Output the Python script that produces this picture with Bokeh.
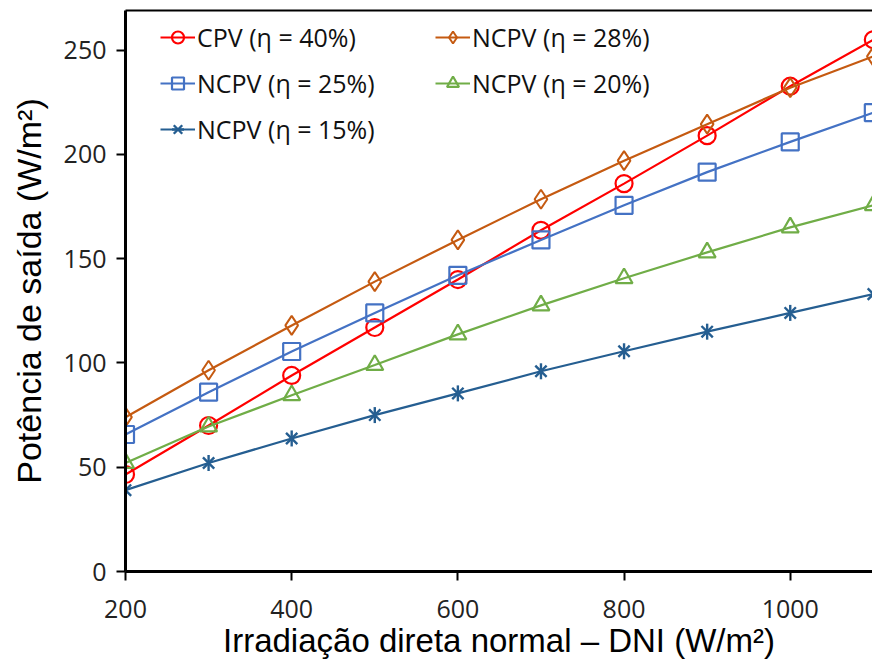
import math
from bokeh.plotting import figure
from bokeh.models import Range1d, LinearAxis, Legend, LegendItem, FixedTicker
from bokeh.embed import file_html
from bokeh.resources import INLINE

dni = [200, 300, 400, 500, 600, 700, 800, 900, 1000, 1100]
cpv_40 = [46.5, 70, 94, 117, 140, 163.6, 186, 209, 232.7, 255]
ncpv_28 = [74, 96.5, 118, 139, 159, 178.5, 197, 214.5, 232, 247]
ncpv_25 = [65.7, 86, 105.5, 124, 142, 159, 175.6, 191.5, 206, 220]
ncpv_20 = [52, 69.5, 84.5, 99, 113.7, 127.6, 140.6, 153, 165, 175.6]
ncpv_15 = [39, 52, 63.8, 75, 85.4, 96, 105.6, 115, 124, 133]

x_ticks = [200, 400, 600, 800, 1000]
y_ticks = [0, 50, 100, 150, 200, 250]

labels = ["CPV (η = 40%)", "NCPV (η = 28%)", "NCPV (η = 25%)", "NCPV (η = 20%)", "NCPV (η = 15%)"]
colors = ["#FF0000", "#C55A11", "#4472C4", "#70AD47", "#255E91"]

p = figure(frame_width=747, frame_height=561, output_backend="svg", toolbar_location=None,
           x_range=Range1d(200, 1099), y_range=Range1d(0, 269),
           min_border_left=125, min_border_right=0, min_border_top=10, min_border_bottom=0)
p.outline_line_color = None
p.grid.grid_line_color = None
p.background_fill_color = "white"

tick_font = "Open Sans"
title_font = "Liberation Sans"

for ax in (p.xaxis[0], p.yaxis[0]):
    ax.axis_line_color = "black"
    ax.axis_line_width = 3
    ax.major_tick_line_color = "black"
    ax.major_tick_line_width = 2
    ax.major_tick_out = 9
    ax.major_tick_in = 0
    ax.minor_tick_line_color = None
    ax.major_label_text_font = tick_font
    ax.major_label_text_font_size = "25px"
    ax.major_label_text_color = "#222222"
    ax.axis_label_text_font = title_font
    ax.axis_label_text_font_style = "normal"
    ax.axis_label_text_color = "black"

p.xaxis.axis_label_text_font_size = "33px"
p.yaxis.axis_label_text_font_size = "34px"
p.xaxis.ticker = FixedTicker(ticks=x_ticks)
p.yaxis.ticker = FixedTicker(ticks=y_ticks)
p.xaxis.axis_label = "Irradiação direta normal – DNI (W/m²)"
p.yaxis.axis_label = "Potência de saída (W/m²)"
p.xaxis.major_label_standoff = 19
p.yaxis.major_label_standoff = 10
p.xaxis.axis_label_standoff = 1
p.yaxis.axis_label_standoff = 13

top = LinearAxis(axis_line_color="black", axis_line_width=2, major_tick_line_color=None,
                 minor_tick_line_color=None, major_label_text_font_size="0px")
top.ticker = FixedTicker(ticks=[])
p.add_layout(top, "above")

series = [cpv_40, ncpv_28, ncpv_25, ncpv_20, ncpv_15]
renderers = []
for vals, col, i in zip(series, colors, range(5)):
    ln = p.line(dni, vals, line_color=col, line_width=2.2)
    rs = [ln]
    if i == 0:
        rs.append(p.scatter(dni, vals, marker="circle", size=17, fill_alpha=0, line_color=col, line_width=2.2))
    elif i == 1:
        rs.append(p.scatter(dni, vals, marker="diamond", size=19, fill_alpha=0, line_color=col, line_width=2))
    elif i == 2:
        rs.append(p.scatter(dni, vals, marker="square", size=17, fill_alpha=0, line_color=col, line_width=2.2))
    elif i == 3:
        rs.append(p.scatter(dni, vals, marker="triangle", size=17, fill_alpha=0, line_color=col, line_width=2.2))
    else:
        rs.append(p.scatter(dni, vals, marker="x", size=16, line_color=col, line_width=2.4))
        rs.append(p.scatter(dni, vals, marker="dash", size=16, angle=math.pi / 2, line_color=col, line_width=2.4))
    renderers.append(rs)

def make_legend(idx, loc):
    lg = Legend(items=[LegendItem(label=labels[i], renderers=renderers[i]) for i in idx],
                location=loc, padding=0, margin=0, spacing=12,
                glyph_width=35, glyph_height=30, label_height=30, label_standoff=2,
                label_text_font=tick_font, label_text_font_size="25px", label_text_color="#111111",
                border_line_color=None, background_fill_alpha=0)
    p.add_layout(lg, "center")

make_legend([0, 2, 4], (35, 425))
make_legend([1, 3], (310, 471))

open("out.html", "w").write(file_html(p, INLINE))
